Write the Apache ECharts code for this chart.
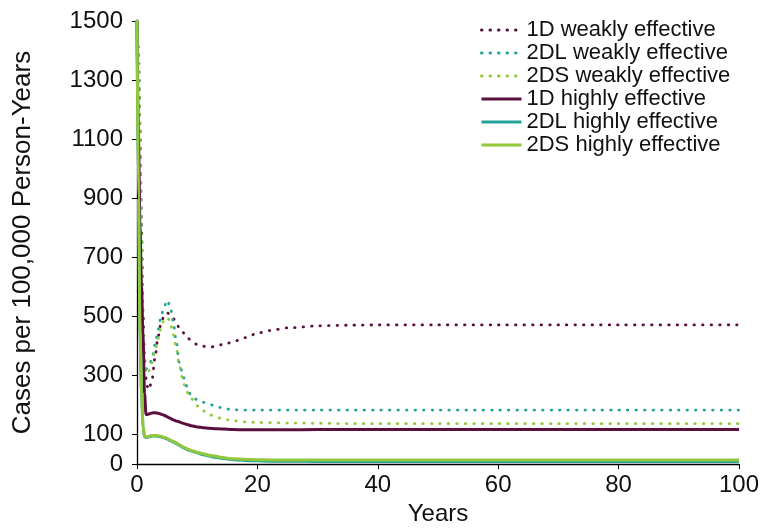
<!DOCTYPE html>
<html>
<head>
  <meta charset="utf-8">
  <title>Cases per 100,000 Person-Years</title>
  <script src="https://cdn.jsdelivr.net/npm/echarts@6/dist/echarts.min.js"></script>
</head>
<body style="margin:0">
<div id="main" style="width:765px;height:531px;"></div>

<script type="text/javascript">
  // time points (years)
  var years = [0, 0.25, 0.5, 0.75, 1, 1.25, 1.5, 1.75, 2, 2.5, 3, 3.5, 4, 4.5, 5, 5.5, 6, 6.5, 7, 7.5,
    8, 8.5, 9, 10, 11, 12, 13, 14, 15, 16, 18, 20, 22, 25, 30, 35, 40, 50, 60, 70, 80, 90, 100];

  var d1Weak = [1500, 1400, 1150, 820, 520, 360, 290, 262, 252, 288, 361, 432, 476, 503, 512, 507, 494, 479, 462, 450,
    437, 426, 417, 405, 399, 396, 398, 404, 409, 415, 428, 443, 452, 461, 468, 470, 471, 471, 471, 471, 471, 471, 471];
  var d2lWeak = [1500, 1380, 1100, 760, 460, 345, 322, 325, 333, 357, 405, 455, 500, 532, 555, 535, 485, 420, 345, 313,
    277, 248, 232, 218, 209, 203, 196, 191, 186, 184, 183, 183, 183, 183, 183, 183, 183, 183, 183, 183, 183, 183, 183];
  var d2sWeak = [1500, 1380, 1100, 760, 450, 330, 307, 308, 316, 343, 385, 425, 462, 488, 496, 485, 440, 395, 340, 295,
    262, 240, 222, 197, 180, 168, 160, 155, 150, 147, 143, 141, 140, 139, 138, 137, 137, 137, 137, 137, 137, 137, 137];
  var d1High = [1500, 1100, 800, 600, 430, 240, 168, 168, 170, 173, 174, 172, 169, 165, 160, 155, 150, 146, 143, 139,
    136, 133, 130, 126, 123, 121, 120, 119, 118, 117, 116, 116, 116, 116, 117, 117, 117, 117, 117, 117, 117, 117, 117];
  var d2lHigh = [1500, 900, 450, 250, 128, 92, 90, 91, 93, 95, 95, 94, 92, 89, 85, 80, 75, 70, 64, 58,
    53, 48, 44, 38, 32, 27, 23, 20, 17, 15, 12, 11, 10, 10, 9, 9, 9, 9, 9, 9, 9, 9, 9];
  var d2sHigh = [1500, 900, 450, 250, 130, 94, 92, 93, 95, 97, 97, 96, 94, 91, 87, 82, 77, 72, 66, 60,
    55, 50, 46, 40, 35, 30, 27, 23, 20, 18, 16, 15, 14, 14, 14, 14, 14, 14, 14, 14, 14, 14, 14];

  var yTicks = [0, 100, 300, 500, 700, 900, 1100, 1300, 1500];

  var maroon = '#5a0f3e';
  var teal = '#22a39a';
  var green = '#94c83c';
  var font = 'Liberation Sans, Arial, sans-serif';

  function pairs(vals) {
    return years.map(function (t, i) {
      return [t, vals[i]];
    });
  }

  function makeSeries(name, vals, color, dotted) {
    return {
      name: name,
      type: 'line',
      data: pairs(vals),
      symbol: 'none',
      smooth: 0.3,
      smoothMonotone: 'x',
      color: color,
      lineStyle: dotted
        ? {color: color, width: 2.8, type: [0.5, 8], cap: 'round'}
        : {color: color, width: 3}
    };
  }

  var myChart = echarts.init(document.getElementById('main'));
  var option = {
    animation: false,
    grid: {left: 137, right: 26, top: 21, bottom: 66},
    legend: {
      orient: 'vertical',
      left: 475,
      top: 14,
      itemWidth: 40,
      itemHeight: 14,
      itemGap: 1,
      itemStyle: {opacity: 0},
      lineStyle: {width: 3},
      textStyle: {fontFamily: font, fontSize: 22, color: '#111'}
    },
    xAxis: {
      type: 'value',
      min: 0,
      max: 100,
      interval: 20,
      name: 'Years',
      nameLocation: 'middle',
      nameGap: 37,
      nameTextStyle: {fontFamily: font, fontSize: 24, color: '#111'},
      axisLine: {show: true, lineStyle: {color: '#000', width: 1.3}},
      axisTick: {show: true, inside: false, length: 5, lineStyle: {color: '#000'}},
      axisLabel: {fontFamily: font, fontSize: 24, color: '#111', margin: 9},
      splitLine: {show: false}
    },
    yAxis: {
      type: 'value',
      min: 0,
      max: 1500,
      name: 'Cases per 100,000 Person-Years',
      nameLocation: 'middle',
      nameGap: 101,
      nameTextStyle: {fontFamily: font, fontSize: 26, color: '#111'},
      axisLine: {show: true, lineStyle: {color: '#000', width: 1.3}},
      axisTick: {show: true, inside: false, length: 5, customValues: yTicks, lineStyle: {color: '#000'}},
      axisLabel: {
        fontFamily: font, fontSize: 24, color: '#111', margin: 14, customValues: yTicks,
        formatter: function (v) {
          return String(v);
        }
      },
      splitLine: {show: false}
    },
    series: [
      makeSeries('1D weakly effective', d1Weak, maroon, true),
      makeSeries('2DL weakly effective', d2lWeak, teal, true),
      makeSeries('2DS weakly effective', d2sWeak, green, true),
      makeSeries('1D highly effective', d1High, maroon, false),
      makeSeries('2DL highly effective', d2lHigh, teal, false),
      makeSeries('2DS highly effective', d2sHigh, green, false)
    ]
  };
  myChart.setOption(option);
</script>
</body>
</html>
